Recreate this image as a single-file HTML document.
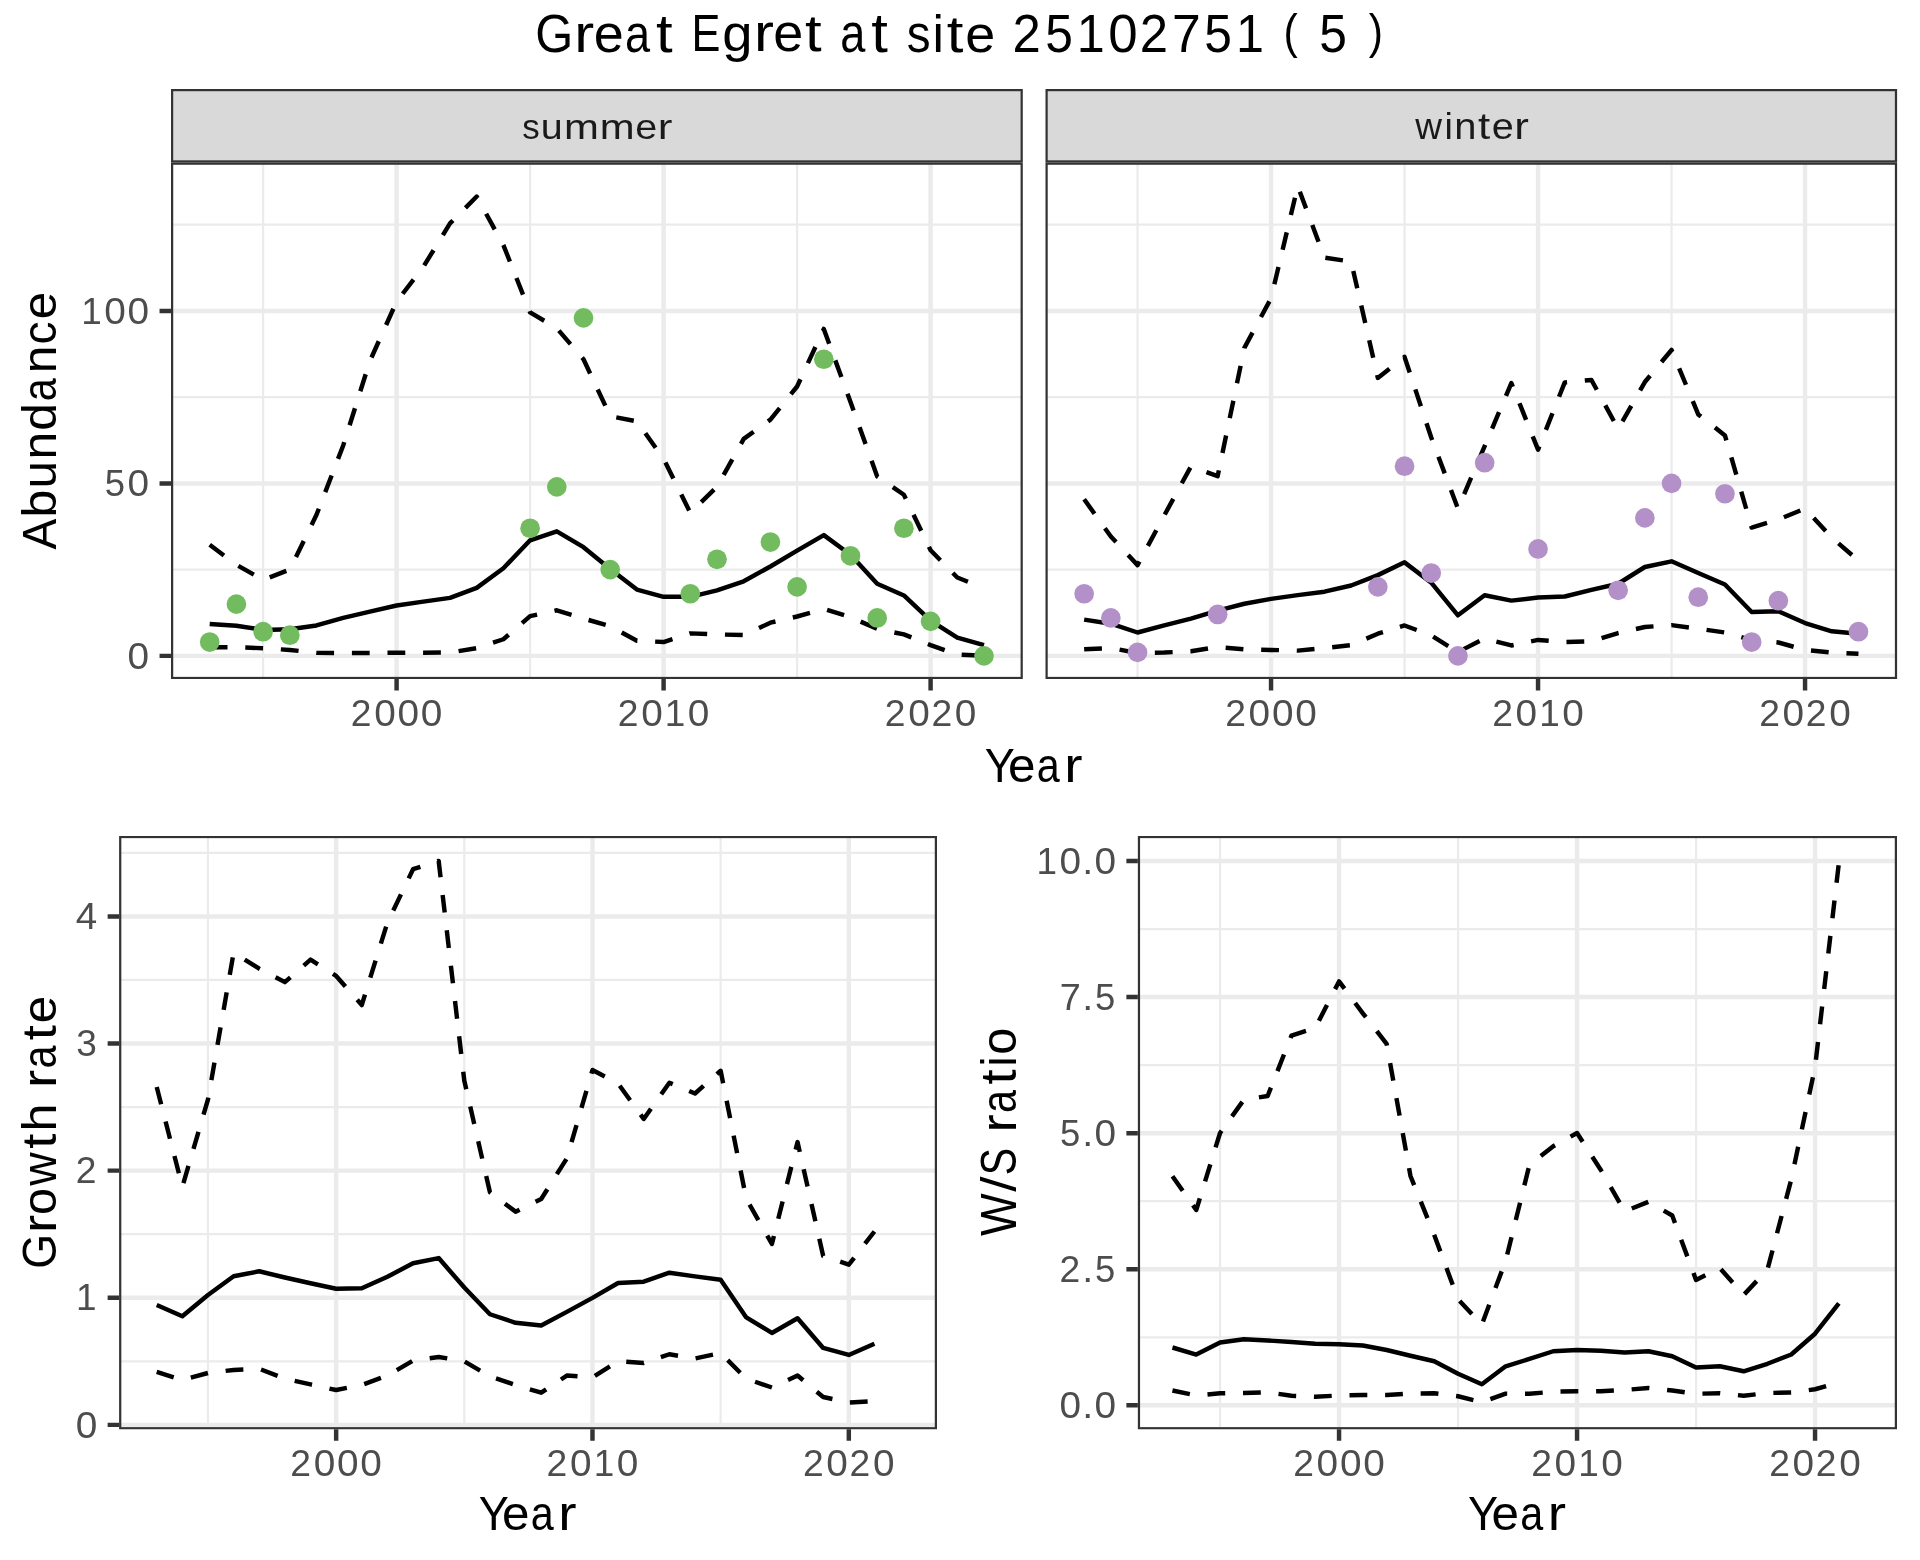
<!DOCTYPE html>
<html><head><meta charset="utf-8"><title>Great Egret at site 25102751</title>
<style>html,body{margin:0;padding:0;background:#fff}svg{display:block}text{font-family:"Liberation Sans",sans-serif}</style></head>
<body>
<svg width="1920" height="1560" viewBox="0 0 1920 1560" font-family="'Liberation Sans', sans-serif">
<rect width="1920" height="1560" fill="#FFFFFF"/>
<defs>
<clipPath id="cs"><rect x="171" y="162.55" width="851.8" height="516.55"/></clipPath>
<clipPath id="cw"><rect x="1045.5" y="162.55" width="851.6" height="516.55"/></clipPath>
<clipPath id="cg"><rect x="119.1" y="835.9" width="817.9" height="593.45"/></clipPath>
<clipPath id="cr"><rect x="1137.85" y="835.9" width="759.15" height="593.45"/></clipPath>
</defs>
<g clip-path="url(#cs)">
<path d="M171 569.62H1022.8M171 397.18H1022.8M171 224.73H1022.8M263.1 162.55V679.1M530.1 162.55V679.1M797.1 162.55V679.1" stroke="#EBEBEB" stroke-width="2.23" fill="none"/>
<path d="M171 655.85H1022.8M171 483.4H1022.8M171 310.95H1022.8M396.6 162.55V679.1M663.6 162.55V679.1M930.6 162.55V679.1" stroke="#EBEBEB" stroke-width="4.45" fill="none"/>
<polyline points="209.7,544.77 236.4,564.77 263.1,579.94 289.8,569.6 316.5,514.78 343.2,445.47 369.9,361 396.6,301.69 423.3,266.87 450,223.42 476.7,196.53 503.4,245.14 530.1,312.38 556.8,328.24 583.5,359.27 610.2,416.16 636.9,421.34 663.6,458.92 690.3,512.71 717,486.85 743.7,438.92 770.4,419.61 797.1,386.51 823.8,328.93 850.5,402.03 877.2,476.5 903.9,494.78 930.6,550.29 957.3,577.53 984,588.22" fill="none" stroke="#000" stroke-width="4.45" stroke-linejoin="round" stroke-dasharray="17.8 17.8"/>
<polyline points="209.7,647.18 236.4,647.18 263.1,648.21 289.8,649.94 316.5,652.7 343.2,653.04 369.9,653.04 396.6,652.7 423.3,652.7 450,652.52 476.7,648.21 503.4,639.25 530.1,616.15 556.8,610.29 583.5,618.56 610.2,626.15 636.9,640.8 663.6,642.01 690.3,633.39 717,634.42 743.7,635.11 770.4,622.7 797.1,616.49 823.8,608.91 850.5,617.18 877.2,628.91 903.9,634.42 930.6,645.11 957.3,654.56 984,655.8" fill="none" stroke="#000" stroke-width="4.45" stroke-linejoin="round" stroke-dasharray="17.8 17.8"/>
<polyline points="209.7,624.08 236.4,625.8 263.1,629.94 289.8,629.25 316.5,625.46 343.2,617.87 369.9,611.67 396.6,605.46 423.3,601.67 450,597.87 476.7,587.87 503.4,568.22 530.1,540.29 556.8,531.33 583.5,547.19 610.2,568.91 636.9,589.6 663.6,596.84 690.3,596.84 717,590.29 743.7,581.32 770.4,566.5 797.1,550.64 823.8,535.12 850.5,554.77 877.2,583.74 903.9,595.46 930.6,620.63 957.3,637.53 984,645.11" fill="none" stroke="#000" stroke-width="4.45" stroke-linejoin="round"/>
<circle cx="209.7" cy="642.05" r="9.85" fill="#72BC5F"/>
<circle cx="236.4" cy="604.12" r="9.85" fill="#72BC5F"/>
<circle cx="263.1" cy="631.71" r="9.85" fill="#72BC5F"/>
<circle cx="289.8" cy="635.16" r="9.85" fill="#72BC5F"/>
<circle cx="530.1" cy="528.24" r="9.85" fill="#72BC5F"/>
<circle cx="556.8" cy="486.85" r="9.85" fill="#72BC5F"/>
<circle cx="583.5" cy="317.85" r="9.85" fill="#72BC5F"/>
<circle cx="610.2" cy="569.62" r="9.85" fill="#72BC5F"/>
<circle cx="690.3" cy="593.77" r="9.85" fill="#72BC5F"/>
<circle cx="717" cy="559.28" r="9.85" fill="#72BC5F"/>
<circle cx="770.4" cy="542.03" r="9.85" fill="#72BC5F"/>
<circle cx="797.1" cy="586.87" r="9.85" fill="#72BC5F"/>
<circle cx="823.8" cy="359.24" r="9.85" fill="#72BC5F"/>
<circle cx="850.5" cy="555.83" r="9.85" fill="#72BC5F"/>
<circle cx="877.2" cy="617.91" r="9.85" fill="#72BC5F"/>
<circle cx="903.9" cy="528.24" r="9.85" fill="#72BC5F"/>
<circle cx="930.6" cy="621.36" r="9.85" fill="#72BC5F"/>
<circle cx="984" cy="655.85" r="9.85" fill="#72BC5F"/>
<rect x="171" y="162.55" width="851.8" height="516.55" fill="none" stroke="#333333" stroke-width="4.45"/>
</g>
<rect x="171" y="89" width="851.8" height="73.55" fill="#333333"/>
<rect x="173.22" y="91.22" width="847.35" height="69.1" fill="#D9D9D9"/>
<path d="M396.6 679.1V690.56M663.6 679.1V690.56M930.6 679.1V690.56M159.54 655.85H171M159.54 483.4H171M159.54 310.95H171" stroke="#333333" stroke-width="4.45" fill="none"/>
<g clip-path="url(#cw)">
<path d="M1045.5 569.62H1897.1M1045.5 397.18H1897.1M1045.5 224.73H1897.1M1137.55 162.55V679.1M1404.55 162.55V679.1M1671.55 162.55V679.1" stroke="#EBEBEB" stroke-width="2.23" fill="none"/>
<path d="M1045.5 655.85H1897.1M1045.5 483.4H1897.1M1045.5 310.95H1897.1M1271.05 162.55V679.1M1538.05 162.55V679.1M1805.05 162.55V679.1" stroke="#EBEBEB" stroke-width="4.45" fill="none"/>
<polyline points="1084.15,499.26 1110.85,536.5 1137.55,565.12 1164.25,515.47 1190.95,466.5 1217.65,476.16 1244.35,347.89 1271.05,298.24 1297.75,186.18 1324.45,257.56 1351.15,261.69 1377.85,377.89 1404.55,356.86 1431.25,437.54 1457.95,508.57 1484.65,446.16 1511.35,383.06 1538.05,449.61 1564.75,382.37 1591.45,379.96 1618.15,428.92 1644.85,382.03 1671.55,349.96 1698.25,414.44 1724.95,435.47 1751.65,527.53 1778.35,519.6 1805.05,508.57 1831.75,537.53 1858.45,560.64" fill="none" stroke="#000" stroke-width="4.45" stroke-linejoin="round" stroke-dasharray="17.8 17.8"/>
<polyline points="1084.15,649.25 1110.85,648.01 1137.55,653.04 1164.25,652.49 1190.95,651.32 1217.65,647.01 1244.35,649.25 1271.05,649.94 1297.75,650.63 1324.45,648.01 1351.15,645.11 1377.85,633.73 1404.55,625.46 1431.25,635.46 1457.95,652.01 1484.65,638.56 1511.35,645.46 1538.05,639.94 1564.75,642.01 1591.45,641.32 1618.15,633.04 1644.85,627.01 1671.55,625.11 1698.25,628.73 1724.95,632.49 1751.65,639.94 1778.35,642.49 1805.05,649.94 1831.75,652.49 1858.45,653.73" fill="none" stroke="#000" stroke-width="4.45" stroke-linejoin="round" stroke-dasharray="17.8 17.8"/>
<polyline points="1084.15,619.6 1110.85,623.73 1137.55,632.49 1164.25,625.46 1190.95,618.56 1217.65,610.63 1244.35,603.74 1271.05,598.91 1297.75,595.12 1324.45,591.67 1351.15,585.46 1377.85,575.12 1404.55,562.36 1431.25,582.7 1457.95,615.29 1484.65,595.29 1511.35,600.63 1538.05,597.53 1564.75,596.49 1591.45,589.94 1618.15,583.74 1644.85,567.01 1671.55,561.32 1698.25,573.05 1724.95,584.43 1751.65,612.01 1778.35,611.32 1805.05,623.04 1831.75,631.32 1858.45,633.73" fill="none" stroke="#000" stroke-width="4.45" stroke-linejoin="round"/>
<circle cx="1084.15" cy="593.77" r="9.85" fill="#B490C8"/>
<circle cx="1110.85" cy="617.91" r="9.85" fill="#B490C8"/>
<circle cx="1137.55" cy="652.4" r="9.85" fill="#B490C8"/>
<circle cx="1217.65" cy="614.46" r="9.85" fill="#B490C8"/>
<circle cx="1377.85" cy="586.87" r="9.85" fill="#B490C8"/>
<circle cx="1404.55" cy="466.16" r="9.85" fill="#B490C8"/>
<circle cx="1431.25" cy="573.07" r="9.85" fill="#B490C8"/>
<circle cx="1457.95" cy="655.85" r="9.85" fill="#B490C8"/>
<circle cx="1484.65" cy="462.71" r="9.85" fill="#B490C8"/>
<circle cx="1538.05" cy="548.93" r="9.85" fill="#B490C8"/>
<circle cx="1618.15" cy="590.32" r="9.85" fill="#B490C8"/>
<circle cx="1644.85" cy="517.89" r="9.85" fill="#B490C8"/>
<circle cx="1671.55" cy="483.4" r="9.85" fill="#B490C8"/>
<circle cx="1698.25" cy="597.22" r="9.85" fill="#B490C8"/>
<circle cx="1724.95" cy="493.75" r="9.85" fill="#B490C8"/>
<circle cx="1751.65" cy="642.05" r="9.85" fill="#B490C8"/>
<circle cx="1778.35" cy="600.67" r="9.85" fill="#B490C8"/>
<circle cx="1858.45" cy="631.71" r="9.85" fill="#B490C8"/>
<rect x="1045.5" y="162.55" width="851.6" height="516.55" fill="none" stroke="#333333" stroke-width="4.45"/>
</g>
<rect x="1045.5" y="89" width="851.6" height="73.55" fill="#333333"/>
<rect x="1047.72" y="91.22" width="847.15" height="69.1" fill="#D9D9D9"/>
<path d="M1271.05 679.1V690.56M1538.05 679.1V690.56M1805.05 679.1V690.56" stroke="#333333" stroke-width="4.45" fill="none"/>
<g clip-path="url(#cg)">
<path d="M119.1 1361.29H937M119.1 1234.18H937M119.1 1107.07H937M119.1 979.96H937M119.1 852.85H937M207.98 835.9V1429.35M464.31 835.9V1429.35M720.64 835.9V1429.35" stroke="#EBEBEB" stroke-width="2.23" fill="none"/>
<path d="M119.1 1424.85H937M119.1 1297.74H937M119.1 1170.63H937M119.1 1043.52H937M119.1 916.41H937M336.15 835.9V1429.35M592.48 835.9V1429.35M848.81 835.9V1429.35" stroke="#EBEBEB" stroke-width="4.45" fill="none"/>
<polyline points="156.72,1087.04 182.35,1186.73 207.98,1099.5 233.62,952.65 259.25,968.67 284.88,982.15 310.52,959.64 336.15,975.91 361.78,1005.03 387.42,922.64 413.05,869.24 438.68,860.97 464.31,1080.81 489.95,1192.32 515.58,1211.65 541.21,1198.94 566.85,1158.38 592.48,1070.01 618.11,1083.61 643.75,1118.96 669.38,1082.72 695.01,1093.53 720.64,1070.77 746.28,1198.94 771.91,1243.95 797.54,1142.1 823.18,1255.9 848.81,1264.67 874.44,1231.49" fill="none" stroke="#000" stroke-width="4.45" stroke-linejoin="round" stroke-dasharray="17.8 17.8"/>
<polyline points="156.72,1371.99 182.35,1380 207.98,1373 233.62,1369.95 259.25,1368.81 284.88,1378.73 310.52,1384.45 336.15,1390.04 361.78,1384.96 387.42,1375.55 413.05,1360.54 438.68,1356.98 464.31,1361.31 489.95,1376.31 515.58,1384.96 541.21,1392.71 566.85,1375.55 592.48,1377.45 618.11,1361.31 643.75,1362.96 669.38,1354.25 695.01,1358.51 720.64,1353.04 746.28,1378.73 771.91,1387.5 797.54,1375.55 823.18,1397.04 848.81,1402.5 874.44,1401.23" fill="none" stroke="#000" stroke-width="4.45" stroke-linejoin="round" stroke-dasharray="17.8 17.8"/>
<polyline points="156.72,1304.98 182.35,1316.3 207.98,1295.06 233.62,1276.24 259.25,1271.28 284.88,1277.51 310.52,1283.24 336.15,1288.7 361.78,1288.2 387.42,1276.75 413.05,1263.27 438.68,1258.06 464.31,1287.56 489.95,1314.26 515.58,1322.78 541.21,1325.58 566.85,1311.85 592.48,1297.86 618.11,1282.98 643.75,1281.71 669.38,1272.68 695.01,1276.37 720.64,1279.68 746.28,1317.44 771.91,1332.95 797.54,1318.2 823.18,1347.96 848.81,1354.95 874.44,1343.76" fill="none" stroke="#000" stroke-width="4.45" stroke-linejoin="round"/>
<rect x="119.1" y="835.9" width="817.9" height="593.45" fill="none" stroke="#333333" stroke-width="4.45"/>
</g>
<path d="M336.15 1429.35V1440.81M592.48 1429.35V1440.81M848.81 1429.35V1440.81M107.64 1424.85H119.1M107.64 1297.74H119.1M107.64 1170.63H119.1M107.64 1043.52H119.1M107.64 916.41H119.1" stroke="#333333" stroke-width="4.45" fill="none"/>
<g clip-path="url(#cr)">
<path d="M1137.85 1337.26H1897M1137.85 1201.19H1897M1137.85 1065.11H1897M1137.85 929.04H1897M1220.05 835.9V1429.35M1458.05 835.9V1429.35M1696.05 835.9V1429.35" stroke="#EBEBEB" stroke-width="2.23" fill="none"/>
<path d="M1137.85 1405.3H1897M1137.85 1269.22H1897M1137.85 1133.15H1897M1137.85 997.07H1897M1137.85 861H1897M1339.05 835.9V1429.35M1577.05 835.9V1429.35M1815.05 835.9V1429.35" stroke="#EBEBEB" stroke-width="4.45" fill="none"/>
<polyline points="1172.45,1176.19 1196.25,1209.98 1220.05,1133 1243.85,1099.82 1267.65,1096.01 1291.45,1035.62 1315.25,1028.01 1339.05,981.39 1362.85,1013.32 1386.65,1043.84 1410.45,1175.98 1434.25,1235 1458.05,1299.25 1481.85,1324.49 1505.65,1260.84 1529.45,1164.82 1553.25,1146.27 1577.05,1133 1600.85,1169.99 1624.65,1211.34 1648.45,1201.76 1672.25,1215.52 1696.05,1279.99 1719.85,1268.02 1743.65,1295 1767.45,1269.54 1791.25,1179.51 1815.05,1067.18 1838.85,863.18" fill="none" stroke="#000" stroke-width="4.45" stroke-linejoin="round" stroke-dasharray="17.8 17.8"/>
<polyline points="1172.45,1390.48 1196.25,1395.48 1220.05,1393.25 1243.85,1393.03 1267.65,1392.27 1291.45,1395.75 1315.25,1396.73 1339.05,1395.48 1362.85,1394.99 1386.65,1394.99 1410.45,1393.52 1434.25,1393.25 1458.05,1396.24 1481.85,1402.28 1505.65,1393.63 1529.45,1393.74 1553.25,1391.73 1577.05,1391.24 1600.85,1391.24 1624.65,1389.99 1648.45,1388 1672.25,1390.5 1696.05,1393.74 1719.85,1393.25 1743.65,1395.75 1767.45,1393.03 1791.25,1392.49 1815.05,1389.25 1838.85,1382.7" fill="none" stroke="#000" stroke-width="4.45" stroke-linejoin="round" stroke-dasharray="17.8 17.8"/>
<polyline points="1172.45,1347.5 1196.25,1354.52 1220.05,1342.49 1243.85,1339.23 1267.65,1340.48 1291.45,1342 1315.25,1343.75 1339.05,1344.24 1362.85,1345.49 1386.65,1350 1410.45,1355.77 1434.25,1361.26 1458.05,1373.77 1481.85,1384.27 1505.65,1366.27 1529.45,1358.98 1553.25,1351.25 1577.05,1350 1600.85,1350.76 1624.65,1352.5 1648.45,1351.25 1672.25,1356.26 1696.05,1367.52 1719.85,1366.27 1743.65,1371.27 1767.45,1363.76 1791.25,1354.52 1815.05,1333.74 1838.85,1303.27" fill="none" stroke="#000" stroke-width="4.45" stroke-linejoin="round"/>
<rect x="1137.85" y="835.9" width="759.15" height="593.45" fill="none" stroke="#333333" stroke-width="4.45"/>
</g>
<path d="M1339.05 1429.35V1440.81M1577.05 1429.35V1440.81M1815.05 1429.35V1440.81M1126.39 1405.3H1137.85M1126.39 1269.22H1137.85M1126.39 1133.15H1137.85M1126.39 997.07H1137.85M1126.39 861H1137.85" stroke="#333333" stroke-width="4.45" fill="none"/>
<g style="filter:grayscale(1)">
<text transform="translate(522.24 139.09) scale(0.909 0.927)" font-size="38.5" fill="#1A1A1A">s</text>
<text transform="translate(540.81 139.09) scale(1.025 0.927)" font-size="38.5" fill="#1A1A1A">u</text>
<text transform="translate(564.01 139.09) scale(1.088 0.927)" font-size="38.5" fill="#1A1A1A">m</text>
<text transform="translate(599.77 139.09) scale(1.088 0.927)" font-size="38.5" fill="#1A1A1A">m</text>
<text transform="translate(635.29 139.09) scale(1.028 0.927)" font-size="38.5" fill="#1A1A1A">e</text>
<text transform="translate(657.84 139.09) scale(1.140 0.927)" font-size="38.5" fill="#1A1A1A">r</text>
<text transform="translate(350.73 725.73) scale(0.968 0.962)" font-size="38.5" fill="#4D4D4D">2</text>
<text transform="translate(374.15 725.73) scale(1.007 0.962)" font-size="38.5" fill="#4D4D4D">0</text>
<text transform="translate(397.43 725.73) scale(1.007 0.962)" font-size="38.5" fill="#4D4D4D">0</text>
<text transform="translate(420.81 725.73) scale(1.007 0.962)" font-size="38.5" fill="#4D4D4D">0</text>
<text transform="translate(617.73 725.73) scale(0.968 0.962)" font-size="38.5" fill="#4D4D4D">2</text>
<text transform="translate(641.15 725.73) scale(1.007 0.962)" font-size="38.5" fill="#4D4D4D">0</text>
<text transform="translate(664.87 725.73) scale(0.958 0.962)" font-size="38.5" fill="#4D4D4D">1</text>
<text transform="translate(687.81 725.73) scale(1.007 0.962)" font-size="38.5" fill="#4D4D4D">0</text>
<text transform="translate(884.73 725.73) scale(0.968 0.962)" font-size="38.5" fill="#4D4D4D">2</text>
<text transform="translate(908.15 725.73) scale(1.007 0.962)" font-size="38.5" fill="#4D4D4D">0</text>
<text transform="translate(931.39 725.73) scale(0.968 0.962)" font-size="38.5" fill="#4D4D4D">2</text>
<text transform="translate(954.81 725.73) scale(1.007 0.962)" font-size="38.5" fill="#4D4D4D">0</text>
<text transform="translate(127.57 668.58) scale(1.007 0.962)" font-size="38.5" fill="#4D4D4D">0</text>
<text transform="translate(104.79 496.13) scale(0.947 0.962)" font-size="38.5" fill="#4D4D4D">5</text>
<text transform="translate(127.62 496.13) scale(1.007 0.962)" font-size="38.5" fill="#4D4D4D">0</text>
<text transform="translate(81.34 323.68) scale(0.958 0.962)" font-size="38.5" fill="#4D4D4D">1</text>
<text transform="translate(104.29 323.68) scale(1.007 0.962)" font-size="38.5" fill="#4D4D4D">0</text>
<text transform="translate(127.57 323.68) scale(1.007 0.962)" font-size="38.5" fill="#4D4D4D">0</text>
<text transform="translate(1415.14 139.08) scale(0.962 0.952)" font-size="38.5" fill="#1A1A1A">w</text>
<text transform="translate(1444.5 139.08) scale(0.980 0.952)" font-size="38.5" fill="#1A1A1A">i</text>
<text transform="translate(1454.34 139.08) scale(1.037 0.952)" font-size="38.5" fill="#1A1A1A">n</text>
<text transform="translate(1478.01 139.08) scale(1.140 0.952)" font-size="38.5" fill="#1A1A1A">t</text>
<text transform="translate(1491.75 139.08) scale(1.028 0.952)" font-size="38.5" fill="#1A1A1A">e</text>
<text transform="translate(1514.3 139.08) scale(1.140 0.952)" font-size="38.5" fill="#1A1A1A">r</text>
<text transform="translate(1225.18 725.73) scale(0.968 0.962)" font-size="38.5" fill="#4D4D4D">2</text>
<text transform="translate(1248.6 725.73) scale(1.007 0.962)" font-size="38.5" fill="#4D4D4D">0</text>
<text transform="translate(1271.88 725.73) scale(1.007 0.962)" font-size="38.5" fill="#4D4D4D">0</text>
<text transform="translate(1295.26 725.73) scale(1.007 0.962)" font-size="38.5" fill="#4D4D4D">0</text>
<text transform="translate(1492.18 725.73) scale(0.968 0.962)" font-size="38.5" fill="#4D4D4D">2</text>
<text transform="translate(1515.6 725.73) scale(1.007 0.962)" font-size="38.5" fill="#4D4D4D">0</text>
<text transform="translate(1539.32 725.73) scale(0.958 0.962)" font-size="38.5" fill="#4D4D4D">1</text>
<text transform="translate(1562.26 725.73) scale(1.007 0.962)" font-size="38.5" fill="#4D4D4D">0</text>
<text transform="translate(1759.18 725.73) scale(0.968 0.962)" font-size="38.5" fill="#4D4D4D">2</text>
<text transform="translate(1782.6 725.73) scale(1.007 0.962)" font-size="38.5" fill="#4D4D4D">0</text>
<text transform="translate(1805.84 725.73) scale(0.968 0.962)" font-size="38.5" fill="#4D4D4D">2</text>
<text transform="translate(1829.26 725.73) scale(1.007 0.962)" font-size="38.5" fill="#4D4D4D">0</text>
<text transform="translate(290.28 1475.98) scale(0.968 0.962)" font-size="38.5" fill="#4D4D4D">2</text>
<text transform="translate(313.7 1475.98) scale(1.007 0.962)" font-size="38.5" fill="#4D4D4D">0</text>
<text transform="translate(336.98 1475.98) scale(1.007 0.962)" font-size="38.5" fill="#4D4D4D">0</text>
<text transform="translate(360.36 1475.98) scale(1.007 0.962)" font-size="38.5" fill="#4D4D4D">0</text>
<text transform="translate(546.61 1475.98) scale(0.968 0.962)" font-size="38.5" fill="#4D4D4D">2</text>
<text transform="translate(570.03 1475.98) scale(1.007 0.962)" font-size="38.5" fill="#4D4D4D">0</text>
<text transform="translate(593.75 1475.98) scale(0.958 0.962)" font-size="38.5" fill="#4D4D4D">1</text>
<text transform="translate(616.69 1475.98) scale(1.007 0.962)" font-size="38.5" fill="#4D4D4D">0</text>
<text transform="translate(802.94 1475.98) scale(0.968 0.962)" font-size="38.5" fill="#4D4D4D">2</text>
<text transform="translate(826.36 1475.98) scale(1.007 0.962)" font-size="38.5" fill="#4D4D4D">0</text>
<text transform="translate(849.6 1475.98) scale(0.968 0.962)" font-size="38.5" fill="#4D4D4D">2</text>
<text transform="translate(873.02 1475.98) scale(1.007 0.962)" font-size="38.5" fill="#4D4D4D">0</text>
<text transform="translate(75.67 1437.58) scale(1.007 0.962)" font-size="38.5" fill="#4D4D4D">0</text>
<text transform="translate(76.11 1310.47) scale(0.958 0.962)" font-size="38.5" fill="#4D4D4D">1</text>
<text transform="translate(75.63 1183.36) scale(0.968 0.962)" font-size="38.5" fill="#4D4D4D">2</text>
<text transform="translate(76.2 1056.25) scale(0.962 0.962)" font-size="38.5" fill="#4D4D4D">3</text>
<text transform="translate(75.81 929.14) scale(1.000 0.962)" font-size="38.5" fill="#4D4D4D">4</text>
<text transform="translate(1293.18 1475.98) scale(0.968 0.962)" font-size="38.5" fill="#4D4D4D">2</text>
<text transform="translate(1316.6 1475.98) scale(1.007 0.962)" font-size="38.5" fill="#4D4D4D">0</text>
<text transform="translate(1339.88 1475.98) scale(1.007 0.962)" font-size="38.5" fill="#4D4D4D">0</text>
<text transform="translate(1363.26 1475.98) scale(1.007 0.962)" font-size="38.5" fill="#4D4D4D">0</text>
<text transform="translate(1531.18 1475.98) scale(0.968 0.962)" font-size="38.5" fill="#4D4D4D">2</text>
<text transform="translate(1554.6 1475.98) scale(1.007 0.962)" font-size="38.5" fill="#4D4D4D">0</text>
<text transform="translate(1578.32 1475.98) scale(0.958 0.962)" font-size="38.5" fill="#4D4D4D">1</text>
<text transform="translate(1601.26 1475.98) scale(1.007 0.962)" font-size="38.5" fill="#4D4D4D">0</text>
<text transform="translate(1769.18 1475.98) scale(0.968 0.962)" font-size="38.5" fill="#4D4D4D">2</text>
<text transform="translate(1792.6 1475.98) scale(1.007 0.962)" font-size="38.5" fill="#4D4D4D">0</text>
<text transform="translate(1815.84 1475.98) scale(0.968 0.962)" font-size="38.5" fill="#4D4D4D">2</text>
<text transform="translate(1839.26 1475.98) scale(1.007 0.962)" font-size="38.5" fill="#4D4D4D">0</text>
<text transform="translate(1059.43 1418.03) scale(1.007 0.962)" font-size="38.5" fill="#4D4D4D">0</text>
<text transform="translate(1082.26 1418.03) scale(1.028 0.962)" font-size="38.5" fill="#4D4D4D">.</text>
<text transform="translate(1094.45 1418.03) scale(1.007 0.962)" font-size="38.5" fill="#4D4D4D">0</text>
<text transform="translate(1059.4 1281.95) scale(0.968 0.962)" font-size="38.5" fill="#4D4D4D">2</text>
<text transform="translate(1082.26 1281.95) scale(1.028 0.962)" font-size="38.5" fill="#4D4D4D">.</text>
<text transform="translate(1095 1281.95) scale(0.947 0.962)" font-size="38.5" fill="#4D4D4D">5</text>
<text transform="translate(1059.98 1145.88) scale(0.947 0.962)" font-size="38.5" fill="#4D4D4D">5</text>
<text transform="translate(1082.26 1145.88) scale(1.028 0.962)" font-size="38.5" fill="#4D4D4D">.</text>
<text transform="translate(1094.45 1145.88) scale(1.007 0.962)" font-size="38.5" fill="#4D4D4D">0</text>
<text transform="translate(1059.64 1009.8) scale(0.984 0.962)" font-size="38.5" fill="#4D4D4D">7</text>
<text transform="translate(1082.26 1009.8) scale(1.028 0.962)" font-size="38.5" fill="#4D4D4D">.</text>
<text transform="translate(1095 1009.8) scale(0.947 0.962)" font-size="38.5" fill="#4D4D4D">5</text>
<text transform="translate(1036.54 873.73) scale(0.958 0.962)" font-size="38.5" fill="#4D4D4D">1</text>
<text transform="translate(1059.48 873.73) scale(1.007 0.962)" font-size="38.5" fill="#4D4D4D">0</text>
<text transform="translate(1082.21 873.73) scale(1.028 0.962)" font-size="38.5" fill="#4D4D4D">.</text>
<text transform="translate(1094.41 873.73) scale(1.007 0.962)" font-size="38.5" fill="#4D4D4D">0</text>
<text transform="translate(535.31 51.81) scale(0.930 1.020)" font-size="52.5" fill="#000">G</text>
<text transform="translate(574.21 51.81) scale(1.140 1.020)" font-size="52.5" fill="#000">r</text>
<text transform="translate(593.71 51.81) scale(1.028 1.020)" font-size="52.5" fill="#000">e</text>
<text transform="translate(625.08 51.81) scale(0.859 1.020)" font-size="52.5" fill="#000">a</text>
<text transform="translate(655.97 51.81) scale(1.140 1.020)" font-size="52.5" fill="#000">t</text>
<text transform="translate(691.41 51.11) scale(0.825 0.998)" font-size="52.5" fill="#000">E</text>
<text transform="translate(722.17 51.11) scale(1.037 0.998)" font-size="52.5" fill="#000">g</text>
<text transform="translate(753.94 51.11) scale(1.140 0.998)" font-size="52.5" fill="#000">r</text>
<text transform="translate(773.31 51.11) scale(1.028 0.998)" font-size="52.5" fill="#000">e</text>
<text transform="translate(804.95 51.11) scale(1.140 0.998)" font-size="52.5" fill="#000">t</text>
<text transform="translate(840.24 51.8) scale(0.859 1.043)" font-size="52.5" fill="#000">a</text>
<text transform="translate(871.13 51.8) scale(1.140 1.043)" font-size="52.5" fill="#000">t</text>
<text transform="translate(906.74 51.82) scale(0.909 1.004)" font-size="52.5" fill="#000">s</text>
<text transform="translate(932.58 51.82) scale(0.980 1.004)" font-size="52.5" fill="#000">i</text>
<text transform="translate(946.65 51.82) scale(1.140 1.004)" font-size="52.5" fill="#000">t</text>
<text transform="translate(965.25 51.82) scale(1.028 1.004)" font-size="52.5" fill="#000">e</text>
<text transform="translate(1012.59 51.81) scale(0.968 1.020)" font-size="52.5" fill="#000">2</text>
<text transform="translate(1045.26 51.81) scale(0.947 1.020)" font-size="52.5" fill="#000">5</text>
<text transform="translate(1076.86 51.81) scale(0.958 1.020)" font-size="52.5" fill="#000">1</text>
<text transform="translate(1108.14 51.81) scale(1.007 1.020)" font-size="52.5" fill="#000">0</text>
<text transform="translate(1139.84 51.81) scale(0.968 1.020)" font-size="52.5" fill="#000">2</text>
<text transform="translate(1172.04 51.81) scale(0.984 1.020)" font-size="52.5" fill="#000">7</text>
<text transform="translate(1204.26 51.81) scale(0.947 1.020)" font-size="52.5" fill="#000">5</text>
<text transform="translate(1235.98 51.81) scale(0.958 1.020)" font-size="52.5" fill="#000">1</text>
<text transform="translate(1283.47 48.2) scale(0.816 0.909)" font-size="52.5" fill="#000">(</text>
<text transform="translate(1319.19 51.82) scale(0.947 1.017)" font-size="52.5" fill="#000">5</text>
<text transform="translate(1368.69 48.2) scale(0.816 0.909)" font-size="52.5" fill="#000">)</text>
<text transform="translate(984.77 782.45) scale(0.937 1.017)" font-size="48.12" fill="#000">Y</text>
<text transform="translate(1008.09 782.45) scale(1.028 1.017)" font-size="48.12" fill="#000">e</text>
<text transform="translate(1036.85 782.45) scale(0.859 1.017)" font-size="48.12" fill="#000">a</text>
<text transform="translate(1064.35 782.45) scale(1.140 1.017)" font-size="48.12" fill="#000">r</text>
<text transform="translate(478.72 1529.6) scale(0.937 1.017)" font-size="48.12" fill="#000">Y</text>
<text transform="translate(502.04 1529.6) scale(1.028 1.017)" font-size="48.12" fill="#000">e</text>
<text transform="translate(530.8 1529.6) scale(0.859 1.017)" font-size="48.12" fill="#000">a</text>
<text transform="translate(558.3 1529.6) scale(1.140 1.017)" font-size="48.12" fill="#000">r</text>
<text transform="translate(1468.07 1529.6) scale(0.937 1.017)" font-size="48.12" fill="#000">Y</text>
<text transform="translate(1491.39 1529.6) scale(1.028 1.017)" font-size="48.12" fill="#000">e</text>
<text transform="translate(1520.15 1529.6) scale(0.859 1.017)" font-size="48.12" fill="#000">a</text>
<text transform="translate(1547.65 1529.6) scale(1.140 1.017)" font-size="48.12" fill="#000">r</text>
<text transform="translate(56.2 549.73) rotate(-90) translate(0.23 0.2) scale(0.960 1.004)" font-size="48.12" fill="#000">A</text>
<text transform="translate(56.2 549.73) rotate(-90) translate(32.27 0.2) scale(1.037 1.004)" font-size="48.12" fill="#000">b</text>
<text transform="translate(56.2 549.73) rotate(-90) translate(61.18 0.2) scale(1.025 1.004)" font-size="48.12" fill="#000">u</text>
<text transform="translate(56.2 549.73) rotate(-90) translate(90.24 0.2) scale(1.037 1.004)" font-size="48.12" fill="#000">n</text>
<text transform="translate(56.2 549.73) rotate(-90) translate(118.98 0.2) scale(1.037 1.004)" font-size="48.12" fill="#000">d</text>
<text transform="translate(56.2 549.73) rotate(-90) translate(148.56 0.2) scale(0.859 1.004)" font-size="48.12" fill="#000">a</text>
<text transform="translate(56.2 549.73) rotate(-90) translate(176.51 0.2) scale(1.037 1.004)" font-size="48.12" fill="#000">n</text>
<text transform="translate(56.2 549.73) rotate(-90) translate(205.31 0.2) scale(0.958 1.004)" font-size="48.12" fill="#000">c</text>
<text transform="translate(56.2 549.73) rotate(-90) translate(230.37 0.2) scale(1.028 1.004)" font-size="48.12" fill="#000">e</text>
<text transform="translate(56.2 1268.93) rotate(-90) translate(0.28 0.2) scale(0.930 1.004)" font-size="48.12" fill="#000">G</text>
<text transform="translate(56.2 1268.93) rotate(-90) translate(35.94 0.2) scale(1.140 1.004)" font-size="48.12" fill="#000">r</text>
<text transform="translate(56.2 1268.93) rotate(-90) translate(53.84 0.2) scale(1.013 1.004)" font-size="48.12" fill="#000">o</text>
<text transform="translate(56.2 1268.93) rotate(-90) translate(83.3 0.2) scale(0.962 1.004)" font-size="48.12" fill="#000">w</text>
<text transform="translate(56.2 1268.93) rotate(-90) translate(120.16 0.2) scale(1.140 1.004)" font-size="48.12" fill="#000">t</text>
<text transform="translate(56.2 1268.93) rotate(-90) translate(137.41 0.2) scale(1.043 1.004)" font-size="48.12" fill="#000">h</text>
<text transform="translate(56.2 1268.93) rotate(-90) translate(180.88 0.2) scale(1.140 1.004)" font-size="48.12" fill="#000">r</text>
<text transform="translate(56.2 1268.93) rotate(-90) translate(200.35 0.2) scale(0.859 1.004)" font-size="48.12" fill="#000">a</text>
<text transform="translate(56.2 1268.93) rotate(-90) translate(228.67 0.2) scale(1.140 1.004)" font-size="48.12" fill="#000">t</text>
<text transform="translate(56.2 1268.93) rotate(-90) translate(245.72 0.2) scale(1.028 1.004)" font-size="48.12" fill="#000">e</text>
<text transform="translate(1016.15 1237.19) rotate(-90) translate(1.26 0.2) scale(0.940 1.020)" font-size="48.12" fill="#000">W</text>
<text transform="translate(1016.15 1237.19) rotate(-90) translate(45.49 0.2) scale(1.140 1.020)" font-size="48.12" fill="#000">/</text>
<text transform="translate(1016.15 1237.19) rotate(-90) translate(61.86 0.2) scale(0.853 1.020)" font-size="48.12" fill="#000">S</text>
<text transform="translate(1016.15 1237.19) rotate(-90) translate(104.8 0.2) scale(1.140 1.020)" font-size="48.12" fill="#000">r</text>
<text transform="translate(1016.15 1237.19) rotate(-90) translate(124.27 0.2) scale(0.859 1.020)" font-size="48.12" fill="#000">a</text>
<text transform="translate(1016.15 1237.19) rotate(-90) translate(152.59 0.2) scale(1.140 1.020)" font-size="48.12" fill="#000">t</text>
<text transform="translate(1016.15 1237.19) rotate(-90) translate(170.51 0.2) scale(0.980 1.020)" font-size="48.12" fill="#000">i</text>
<text transform="translate(1016.15 1237.19) rotate(-90) translate(182.51 0.2) scale(1.013 1.020)" font-size="48.12" fill="#000">o</text>
</g>
</svg>
</body></html>
